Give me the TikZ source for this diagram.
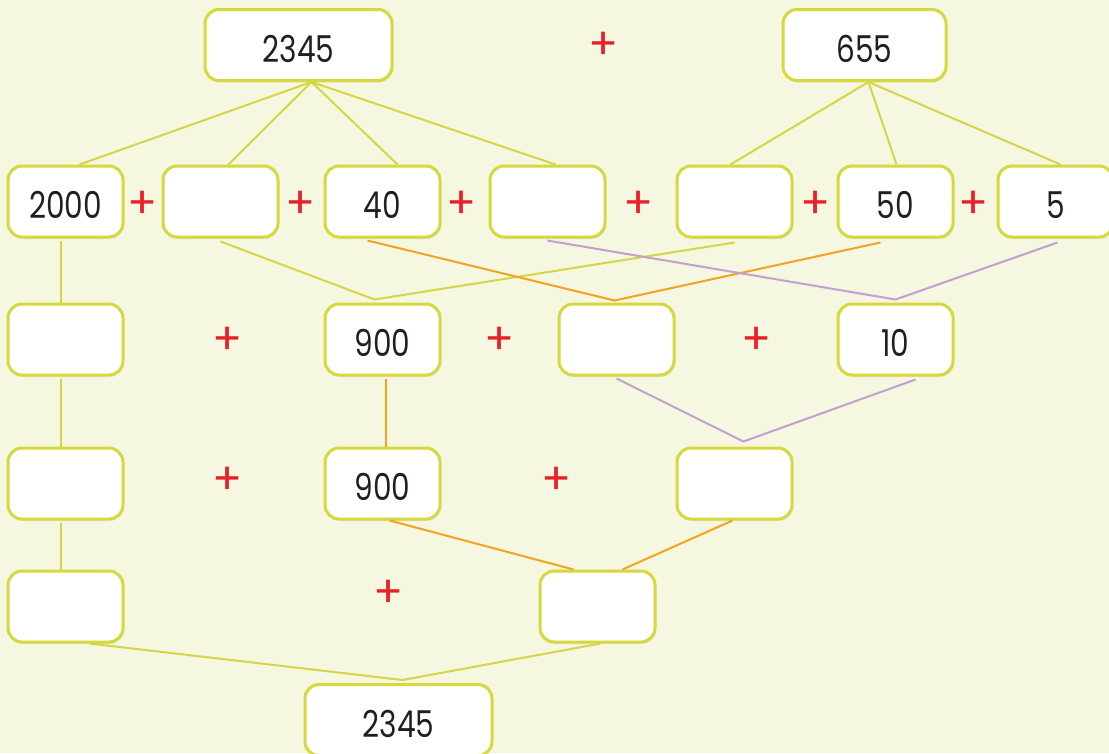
\documentclass[tikz,border=0pt]{standalone}
\usepackage{fontspec}
\setmainfont[FakeStretch=0.8]{Poppins}
\newfontfamily\plusfont{Poppins}
\usepackage{xcolor}
\usepackage{tikz}
\usetikzlibrary{shadows}

\definecolor{bgcol}{HTML}{F5F7E1}
\definecolor{boxline}{HTML}{D6D83C}
\definecolor{glinecol}{HTML}{D4D645}
\definecolor{olinecol}{HTML}{F5A21F}
\definecolor{llinecol}{HTML}{C4A0CF}
\definecolor{plusred}{HTML}{E8202A}
\definecolor{numtext}{HTML}{231F20}

\begin{document}
\begin{tikzpicture}[
      x=1pt, y=-1pt,
      box/.style={rectangle, rounded corners=14pt, draw=boxline, line width=3pt,
        fill=white, minimum width=115pt, minimum height=71pt, inner sep=0pt,
        text=numtext, font=\fontsize{37}{40}\selectfont, text height=34pt, text depth=0pt,
        drop shadow={opacity=0.12, shadow xshift=1pt, shadow yshift=-2pt}},
      wide/.style={minimum width=187pt},
      plus/.style={text=plusred, font=\plusfont\fontsize{44}{46}\selectfont, inner sep=0pt},
      gline/.style={draw=glinecol, line width=2pt},
      oline/.style={draw=olinecol, line width=2pt},
      lline/.style={draw=llinecol, line width=2pt}
    ]
      \fill[bgcol] (0,0) rectangle (1109,753);
      \useasboundingbox (0,0) rectangle (1109,753);

      % top
      \node[box, wide] (s2345) at (298.5,45) {2345};
      \node[box, minimum width=163pt] (s655) at (864.5,45) {655};
      \node[plus] (p0) at (604,46) {+};

      % row 1
      \node[box] (r1c1) at (65.5,201.5) {2000};
      \node[box] (r1c2) at (220.5,201.5) {};
      \node[box] (r1c3) at (382.5,201.5) {40};
      \node[box] (r1c4) at (547.5,201.5) {};
      \node[box] (r1c5) at (734.5,201.5) {};
      \node[box] (r1c6) at (895.5,201.5) {50};
      \node[box] (r1c7) at (1055.5,201.5) {5};
      \foreach \px [count=\i] in {143,301,462,639,816,974}
        \node[plus] (p1\i) at (\px,205) {+};

      % row 2
      \node[box] (r2c1) at (65.5,339.5) {};
      \node[box] (r2c2) at (382.5,339.5) {900};
      \node[box] (r2c3) at (616.5,339.5) {};
      \node[box] (r2c4) at (895.5,339.5) {10};
      \foreach \px [count=\i] in {228,500,757}
        \node[plus] (p2\i) at (\px,341) {+};

      % row 3
      \node[box] (r3c1) at (65.5,483.5) {};
      \node[box] (r3c2) at (382.5,483.5) {900};
      \node[box] (r3c3) at (734.5,483.5) {};
      \node[plus] (p31) at (228,481) {+};
      \node[plus] (p32) at (557,481) {+};

      % row 4
      \node[box] (r4c1) at (65.5,606.5) {};
      \node[box] (r4c2) at (597.5,606.5) {};
      \node[plus] (p41) at (389,594) {+};

      % result
      \node[box, wide] (e2345) at (398.5,720) {2345};

      % split lines
      \draw[gline] ([xshift=14pt]r1c1.north) -- ([xshift=13pt]s2345.south) -- ([xshift=8pt]r1c2.north);
      \draw[gline] ([xshift=15pt]r1c3.north) -- ([xshift=13pt]s2345.south) -- ([xshift=8pt]r1c4.north);
      \draw[gline] ([xshift=-4pt]r1c5.north) -- ([xshift=4pt]s655.south) -- ([xshift=1pt]r1c6.north);
      \draw[gline] ([xshift=4pt]s655.south) -- ([xshift=5pt]r1c7.north);

      % sums
      \draw[gline] ([xshift=-5pt,yshift=-2pt]r1c1.south) -- ([xshift=-5pt]r2c1.north);
      \draw[gline] ([xshift=-5pt,yshift=-2pt]r2c1.south) -- ([xshift=-5pt]r3c1.north);
      \draw[gline] ([xshift=-5pt,yshift=-2pt]r3c1.south) -- ([xshift=-5pt]r4c1.north);
      \draw[gline] ([yshift=-3pt]r1c2.south) -- ([xshift=-8pt,yshift=3pt]r2c2.north) -- ([yshift=-4pt]r1c5.south);
      \draw[oline] ([xshift=-15pt,yshift=-2pt]r1c3.south) -- ([xshift=-2pt,yshift=2pt]r2c3.north) -- ([xshift=-15pt,yshift=-4pt]r1c6.south);
      \draw[lline] ([yshift=-2pt]r1c4.south) -- ([yshift=3pt]r2c4.north) -- ([xshift=2pt,yshift=-4pt]r1c7.south);
      \draw[oline] ([xshift=3pt,yshift=-2pt]r2c2.south) -- ([xshift=3pt]r3c2.north);
      \draw[lline] ([yshift=-2pt]r2c3.south) -- ([xshift=9pt,yshift=5pt]r3c3.north) -- ([xshift=20pt,yshift=-3pt]r2c4.south);
      \draw[oline] ([xshift=7pt]r3c2.south) -- ([xshift=-24pt]r4c2.north);
      \draw[oline] ([xshift=-2pt]r3c3.south) -- ([xshift=25pt]r4c2.north);
      \draw[gline] ([xshift=24pt]r4c1.south) -- ([xshift=4pt,yshift=3pt]e2345.north) -- ([xshift=3pt]r4c2.south);
    \end{tikzpicture}
\end{document}
